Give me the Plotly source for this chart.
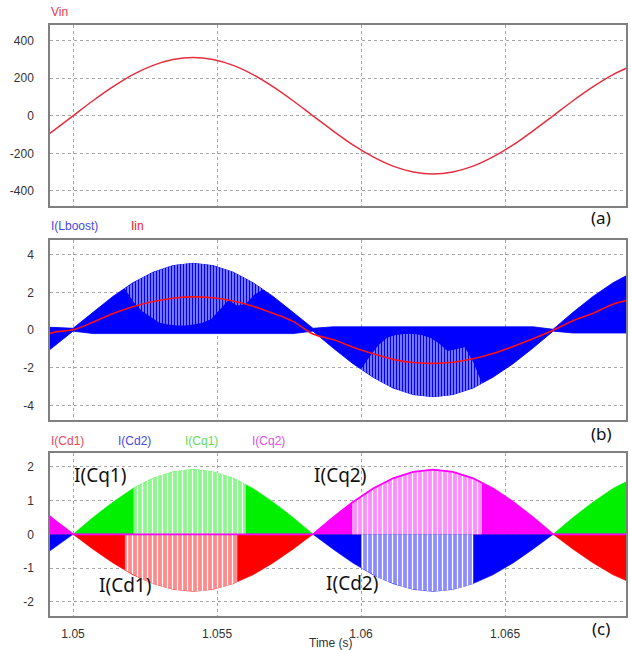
import plotly.graph_objects as go

# ---------------- data ----------------
# time grid (s)
t = [1.04861, 1.04931, 1.05, 1.05069, 1.05139, 1.05208, 1.05278, 1.05347, 1.05417,
     1.05486, 1.05556, 1.05625, 1.05694, 1.05764, 1.05833, 1.05903, 1.05972, 1.06042,
     1.06111, 1.06181, 1.0625, 1.06319, 1.06389, 1.06458, 1.06528, 1.06597, 1.06667,
     1.06736, 1.06806, 1.06875, 1.06944]
# (a) input voltage
vin = [-155, -80, 0, 80, 155, 219, 268, 299, 310, 299, 268, 219, 155, 80, 0, -80, -155,
       -219, -268, -299, -310, -299, -268, -219, -155, -80, 0, 80, 155, 219, 268]
# (b) input current (average) and the switching band of I(Lboost)
iin = [-0.5, -0.12, 0.02, 0.42, 0.88, 1.24, 1.52, 1.70, 1.77, 1.72, 1.55, 1.27, 0.90, 0.47,
       -0.2, -0.5, -0.9, -1.25, -1.55, -1.72, -1.76, -1.70, -1.52, -1.24, -0.86, -0.45, 0.0,
       0.5, 0.9, 1.38, 1.65]
ilb_hi = [0.15, 0.15, 0.1, 0.95, 1.8, 2.52, 3.08, 3.43, 3.55, 3.43, 3.08, 2.52, 1.8, 0.95,
          0.1, 0.18, 0.18, 0.18, 0.18, 0.18, 0.18, 0.18, 0.18, 0.18, 0.18, 0.18, 0.05,
          0.95, 1.8, 2.52, 3.08]
ilb_lo = [-1.75, -0.9, -0.05, -0.18, -0.18, -0.18, -0.18, -0.18, -0.18, -0.18, -0.18, -0.18,
          -0.18, -0.18, -0.05, -0.95, -1.78, -2.5, -3.07, -3.42, -3.53, -3.42, -3.07, -2.5,
          -1.78, -0.95, -0.05, -0.15, -0.15, -0.15, -0.15]
# lighter (sparse switching) parts of the I(Lboost) band
tp = [1.0518, 1.0521, 1.0524, 1.0527, 1.0530, 1.0533, 1.0536, 1.0539, 1.0542, 1.0545,
      1.0548, 1.0551, 1.0554, 1.0557, 1.0560, 1.0563, 1.0566]
lbp_top = [2.23, 2.53, 2.79, 3.02, 3.21, 3.36, 3.47, 3.53, 3.55, 3.52, 3.45, 3.33, 3.17,
           2.97, 2.74, 2.46, 2.16]
lbp_in = [2.2, 1.5, 1.0, 0.7, 0.4, 0.3, 0.25, 0.25, 0.3, 0.4, 0.6, 1.1, 1.6, 1.3, 1.4, 1.9, 2.16]
tn = [1.0600, 1.0603, 1.0606, 1.0609, 1.0612, 1.0615, 1.0618, 1.0621, 1.0624, 1.0627,
      1.0630, 1.0633, 1.0636, 1.0639, 1.0642]
lbn_bot = [-2.08, -2.39, -2.66, -2.91, -3.11, -3.28, -3.41, -3.49, -3.53, -3.52, -3.47,
           -3.37, -3.23, -3.05, -2.83]
lbn_in = [-2.08, -1.4, -0.8, -0.4, -0.25, -0.2, -0.2, -0.25, -0.4, -0.7, -1.1, -1.0, -0.9,
          -1.7, -2.83]
# (c) capacitor currents (envelopes)
cq1 = [0, 0, 0, 0.50, 0.96, 1.36, 1.66, 1.85, 1.92, 1.85, 1.66, 1.36, 0.96, 0.50, 0,
       0, 0, 0, 0, 0, 0, 0, 0, 0, 0, 0, 0, 0.50, 0.96, 1.36, 1.66]
cd1 = [0, 0, 0, -0.44, -0.85, -1.20, -1.46, -1.63, -1.69, -1.63, -1.46, -1.20, -0.85, -0.44, 0,
       0, 0, 0, 0, 0, 0, 0, 0, 0, 0, 0, 0, -0.44, -0.85, -1.20, -1.46]
cq2 = [0.95, 0.45, 0, 0, 0, 0, 0, 0, 0, 0, 0, 0, 0, 0, 0, 0.50, 0.96, 1.36, 1.66, 1.85,
       1.92, 1.85, 1.66, 1.36, 0.96, 0.50, 0, 0, 0, 0, 0]
cd2 = [-0.85, -0.42, 0, 0, 0, 0, 0, 0, 0, 0, 0, 0, 0, 0, 0, -0.44, -0.85, -1.20, -1.46,
       -1.63, -1.69, -1.63, -1.46, -1.20, -0.85, -0.44, 0, 0, 0, 0, 0]
cq1_pale = [1.21, 1.37, 1.51, 1.63, 1.74, 1.82, 1.88, 1.91, 1.92, 1.90, 1.87, 1.80, 1.72,
            1.61, 1.48, 1.33, 1.17]
cd1_pale = [-1.06, -1.20, -1.33, -1.44, -1.53, -1.60, -1.65, -1.68, -1.69, -1.68, -1.64,
            -1.59, -1.51, -1.42, -1.30, -1.17, -1.03]
tm = [1.0597, 1.0600, 1.0603, 1.0606, 1.0609, 1.0612, 1.0615, 1.0618, 1.0621, 1.0624,
      1.0627, 1.0630, 1.0633, 1.0636, 1.0639, 1.0642]
cq2_pale = [0.94, 1.13, 1.30, 1.45, 1.58, 1.69, 1.79, 1.85, 1.90, 1.92, 1.91, 1.89, 1.83,
            1.76, 1.66, 1.54]
cd2_pale = [-0.83, -0.99, -1.14, -1.28, -1.39, -1.49, -1.57, -1.63, -1.67, -1.69, -1.68,
            -1.66, -1.61, -1.55, -1.46, -1.35]

# ticks
x_ticks = [1.05, 1.055, 1.06, 1.065]
x_ticklabels = ["1.05", "1.055", "1.06", "1.065"]
ya_ticks = [-400, -200, 0, 200, 400]
ya_labels = ["-400", "-200", "0", "200", "400"]
yb_ticks = [-4, -2, 0, 2, 4]
yb_labels = ["-4", "-2", "0", "2", "4"]
yc_ticks = [-2, -1, 0, 1, 2]
yc_labels = ["-2", "-1", "0", "1", "2"]

BLUE = "#0000FF"
LBLUE = "#8C8CFF"
GREEN = "#00F000"
PGREEN = "#8CF88C"
RED = "#FF0000"
PRED = "#FF8A8A"
MAG = "#FF00FF"
PMAG = "#FF8CFF"

fig = go.Figure()


def add(tr):
    fig.add_trace(tr)


# ---- (a)
add(go.Scatter(x=t, y=vin, mode="lines", line=dict(color="#E62E40", width=1.5, shape="spline"),
               xaxis="x", yaxis="y"))

# ---- (b)
add(go.Scatter(x=t, y=ilb_lo, mode="lines", line=dict(color=BLUE, width=0.8),
               xaxis="x2", yaxis="y2"))
add(go.Scatter(x=t, y=ilb_hi, mode="lines", line=dict(color=BLUE, width=0.8), fill="tonexty",
               fillcolor=BLUE, xaxis="x2", yaxis="y2"))
add(go.Scatter(x=tp, y=lbp_in, mode="lines", line=dict(width=0), xaxis="x2", yaxis="y2"))
add(go.Scatter(x=tp, y=lbp_top, mode="lines", line=dict(width=0), fill="tonexty",
               fillcolor=LBLUE,
               fillpattern=dict(shape="|", fgcolor=BLUE, bgcolor=LBLUE, size=3, solidity=0.45,
                                fillmode="replace"),
               xaxis="x2", yaxis="y2"))
add(go.Scatter(x=tn, y=lbn_in, mode="lines", line=dict(width=0), xaxis="x2", yaxis="y2"))
add(go.Scatter(x=tn, y=lbn_bot, mode="lines", line=dict(width=0), fill="tonexty",
               fillcolor=LBLUE,
               fillpattern=dict(shape="|", fgcolor=BLUE, bgcolor=LBLUE, size=3, solidity=0.45,
                                fillmode="replace"),
               xaxis="x2", yaxis="y2"))
add(go.Scatter(x=t, y=iin, mode="lines", line=dict(color="#FF1010", width=1.6, shape="spline"),
               xaxis="x2", yaxis="y2"))

# ---- (c)
for yy, col in [(cq1, GREEN), (cd1, RED), (cd2, BLUE), (cq2, MAG)]:
    add(go.Scatter(x=t, y=yy, mode="lines", line=dict(color=col, width=0.6), fill="tozeroy",
                   fillcolor=col, xaxis="x3", yaxis="y3"))
for xx, yy, col, pc in [(tp[1:15], cq1_pale[1:15], GREEN, PGREEN),
                        (tp[0:14], cd1_pale[0:14], RED, PRED),
                        (tm, cq2_pale, MAG, PMAG),
                        (tm[1:15], cd2_pale[1:15], BLUE, LBLUE)]:
    add(go.Scatter(x=xx, y=yy, mode="lines", line=dict(width=0), fill="tozeroy", fillcolor=pc,
                   fillpattern=dict(shape="|", fgcolor="#FFFFFF", bgcolor=pc, size=5,
                                    solidity=0.25, fillmode="replace"),
                   xaxis="x3", yaxis="y3"))
add(go.Scatter(x=t, y=cq2, mode="lines", line=dict(color=MAG, width=1.8), xaxis="x3", yaxis="y3"))

# ---------------- layout ----------------
W, H = 631, 650
xd = [50 / W, 626 / W]


def ydom(top, bottom):
    return [1 - bottom / H, 1 - top / H]


tickfont = dict(family="Liberation Sans, Arial", size=12, color="#333333")
frame = dict(showline=True, linecolor="#808080", linewidth=1.5, mirror=True,
             showgrid=True, gridcolor="#A8A8A8", gridwidth=1, griddash="dot",
             zeroline=False, ticks="", tickfont=tickfont)
xr = [1.0492, 1.0692]

layout = dict(
    width=W, height=H, margin=dict(l=0, r=0, t=0, b=0),
    paper_bgcolor="white", plot_bgcolor="white", showlegend=False,
    xaxis=dict(domain=xd, range=xr, anchor="y", tickvals=x_ticks, showticklabels=False, **frame),
    xaxis2=dict(domain=xd, range=xr, anchor="y2", tickvals=x_ticks, showticklabels=False, **frame),
    xaxis3=dict(domain=xd, range=xr, anchor="y3", tickvals=x_ticks, ticktext=x_ticklabels,
                ticklabelstandoff=6, **frame),
    yaxis=dict(domain=ydom(25, 206), range=[-480, 483], anchor="x", tickvals=ya_ticks,
               ticktext=ya_labels, ticklabelstandoff=12, **frame),
    yaxis2=dict(domain=ydom(240, 420), range=[-4.77, 4.79], anchor="x2", tickvals=yb_ticks,
                ticktext=yb_labels, ticklabelstandoff=12, **frame),
    yaxis3=dict(domain=ydom(453, 616), range=[-2.42, 2.41], anchor="x3", tickvals=yc_ticks,
                ticktext=yc_labels, ticklabelstandoff=12, **frame),
)
fig.update_layout(**layout)


def px_ann(text, x, y, size, color, xanchor="left", family="Liberation Sans, Arial"):
    fig.add_annotation(text=text, x=x / W, y=1 - y / H, xref="paper", yref="paper",
                       xanchor=xanchor, yanchor="middle", showarrow=False,
                       font=dict(family=family, size=size, color=color))


px_ann("Vin", 49, 12, 12, "#E8364A")
px_ann("I(Lboost)", 49, 226, 12, "#4848E0")
px_ann("Iin", 129, 226, 12, "#F02020")
px_ann("I(Cd1)", 49, 441, 12, "#E84860")
px_ann("I(Cd2)", 116, 441, 12, "#4848E0")
px_ann("I(Cq1)", 183, 441, 12, "#60DC60")
px_ann("I(Cq2)", 250, 441, 12, "#E050E0")

big = "Noto Sans"
px_ann("(a)", 601, 217, 17, "#111111", "center", big)
px_ann("(b)", 601, 433, 17, "#111111", "center", big)
px_ann("(c)", 601, 628, 17, "#111111", "center", big)
px_ann("I(Cq1)", 100, 475, 19, "#111111", "center", big)
px_ann("I(Cd1)", 125, 585, 19, "#111111", "center", big)
px_ann("I(Cq2)", 340, 475, 19, "#111111", "center", big)
px_ann("I(Cd2)", 352, 583, 19, "#111111", "center", big)
px_ann("Time (s)", 331, 643, 12, "#333333", "center")

fig.write_html("out.html", config={"displayModeBar": False},
               post_script="document.body.style.margin='0';document.body.style.overflow='hidden';")
